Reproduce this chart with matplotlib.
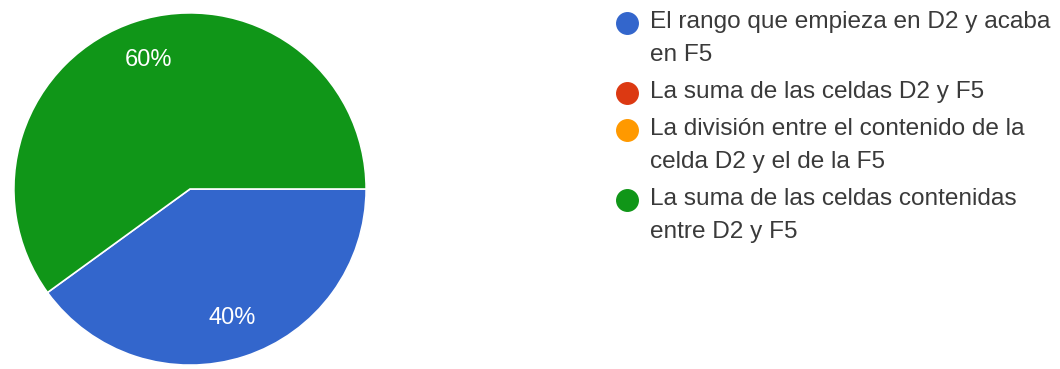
import matplotlib
matplotlib.use("Agg")
import matplotlib.pyplot as plt

plt.rcParams['font.family'] = ['Liberation Sans', 'DejaVu Sans']

# answer options and their share of responses
labels = [
    "El rango que empieza en D2 y acaba\nen F5",
    "La suma de las celdas D2 y F5",
    "La división entre el contenido de la\ncelda D2 y el de la F5",
    "La suma de las celdas contenidas\nentre D2 y F5",
]
shares = [40, 0, 0, 60]
colors = ["#3366cc", "#dc3912", "#ff9900", "#109618"]

W, H = 1060, 369
fig = plt.figure(figsize=(W / 100, H / 100), dpi=100)

# pie axes: centre at (190, 189) px from top-left, radius 177 px
cx, cy, r = 190, H - 189, 177
ax = fig.add_axes([(cx - r) / W, (cy - r) / H, 2 * r / W, 2 * r / H])

nonzero = [(s, c) for s, c in zip(shares, colors) if s > 0]
wedges, texts, autotexts = ax.pie(
    [s for s, _ in nonzero],
    colors=[c for _, c in nonzero],
    startangle=0,
    counterclock=False,
    radius=1.0,
    autopct='%d%%',
    pctdistance=0.77,
    wedgeprops=dict(edgecolor="white", linewidth=1.2),
    textprops=dict(color="white", fontsize=17),
)
ax.set_xlim(-1.005, 1.005)
ax.set_ylim(-1.005, 1.005)
ax.set_aspect("equal")
ax.axis("off")

# legend drawn by hand so the dot sits on the first line of each entry
lax = fig.add_axes([0, 0, 1, 1])
lax.set_xlim(0, W)
lax.set_ylim(H, 0)
lax.axis("off")

line_h = 33    # px between wrapped lines
item_gap = 37  # px from last line of one entry to first line of the next
y = 22
for label, c in zip(labels, colors):
    lax.plot([627], [y + 1], marker="o", markersize=15.5, color=c, linestyle="none")
    lines = label.split("\n")
    for i, line in enumerate(lines):
        lax.text(650, y + i * line_h, line, fontsize=17.6, color="#3a3a3a",
                 va="center", ha="left")
    y += (len(lines) - 1) * line_h + item_gap

fig.savefig("out.png", dpi=100)
